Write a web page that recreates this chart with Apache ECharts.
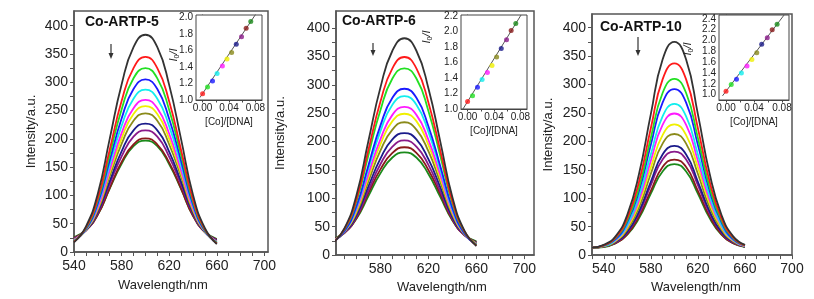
<!DOCTYPE html>
<html>
<head>
<meta charset="utf-8">
<script src="https://cdn.jsdelivr.net/npm/echarts@6/dist/echarts.min.js"></script>
<style>
  html, body { margin: 0; padding: 0; background: #fff; }
  #chart { width: 814px; height: 299px; }
</style>
</head>
<body>
<div id="chart"></div>
<script>
// wavelengths (nm)
const wl5 = [540, 550, 560, 570, 580, 590, 600, 610, 620, 630, 640, 650, 660];
const wl6 = [540, 550, 560, 570, 580, 590, 600, 610, 620, 630, 640, 650, 660];
const wl10 = [530, 540, 550, 560, 570, 580, 590, 600, 610, 620, 630, 640, 650, 660];

// emission spectra, first curve = no complex, then increasing [Co]/[DNA]
const curves5 = [
  [17, 45, 103, 200, 296, 362, 384, 362, 295, 199, 101, 42, 14],
  [18, 43, 95, 181, 267, 325, 345, 325, 266, 180, 93, 40, 15],
  [19, 42, 91, 172, 252, 307, 325, 307, 251, 171, 89, 39, 16],
  [19, 40, 86, 162, 236, 288, 305, 288, 235, 161, 84, 37, 16],
  [20, 40, 83, 154, 223, 271, 287, 271, 222, 153, 81, 37, 17],
  [21, 40, 79, 145, 210, 254, 269, 254, 209, 144, 77, 37, 18],
  [21, 39, 77, 140, 201, 244, 258, 244, 200, 139, 75, 36, 18],
  [22, 39, 74, 134, 191, 232, 245, 232, 190, 133, 72, 36, 19],
  [23, 38, 71, 125, 178, 215, 227, 215, 177, 124, 69, 35, 20],
  [24, 38, 69, 120, 169, 204, 215, 204, 168, 119, 67, 35, 21],
  [25, 38, 66, 113, 159, 190, 201, 190, 158, 112, 64, 35, 22],
  [26, 39, 66, 112, 156, 187, 197, 187, 155, 111, 64, 36, 23]
];
const curves6 = [
  [20, 47, 105, 201, 295, 360, 382, 360, 294, 199, 102, 43, 16],
  [21, 46, 98, 185, 270, 329, 349, 329, 269, 183, 95, 42, 17],
  [22, 45, 94, 176, 255, 311, 329, 311, 254, 174, 91, 41, 18],
  [22, 42, 86, 158, 228, 277, 293, 277, 227, 156, 83, 38, 18],
  [23, 42, 83, 152, 218, 265, 280, 265, 217, 150, 80, 38, 19],
  [24, 42, 80, 143, 204, 247, 261, 247, 203, 141, 77, 38, 20],
  [24, 41, 77, 137, 195, 236, 249, 236, 194, 135, 74, 37, 20],
  [25, 41, 74, 130, 184, 221, 234, 221, 183, 128, 71, 37, 21],
  [26, 40, 70, 121, 170, 204, 215, 204, 169, 119, 67, 36, 22],
  [26, 39, 67, 114, 160, 191, 202, 191, 159, 112, 64, 35, 22],
  [27, 39, 65, 109, 151, 180, 190, 180, 150, 107, 62, 35, 23],
  [28, 40, 64, 104, 144, 172, 181, 172, 143, 102, 61, 36, 24]
];
const curves10 = [
  [13, 18, 33, 71, 143, 248, 344, 375, 344, 248, 143, 71, 33, 18],
  [13, 17, 31, 65, 129, 223, 309, 337, 309, 223, 129, 65, 31, 17],
  [13, 17, 30, 61, 119, 206, 285, 310, 285, 206, 119, 61, 30, 17],
  [13, 17, 28, 58, 113, 194, 268, 292, 268, 194, 113, 58, 28, 17],
  [13, 16, 27, 53, 104, 177, 244, 266, 244, 177, 104, 53, 27, 16],
  [13, 16, 26, 51, 97, 166, 229, 249, 229, 166, 97, 51, 26, 16],
  [13, 16, 25, 48, 91, 154, 211, 230, 211, 154, 91, 48, 25, 16],
  [13, 15, 24, 45, 84, 143, 196, 213, 196, 143, 84, 45, 24, 15],
  [13, 15, 23, 41, 77, 129, 177, 192, 177, 129, 77, 41, 23, 15],
  [13, 15, 22, 40, 73, 123, 168, 182, 168, 123, 73, 40, 22, 15],
  [13, 15, 21, 37, 68, 113, 155, 168, 155, 113, 68, 37, 21, 15],
  [13, 14, 21, 36, 65, 108, 147, 160, 147, 108, 65, 36, 21, 14]
];

// Stern-Volmer insets
const ratio = [0.000, 0.0075, 0.015, 0.022, 0.030, 0.037, 0.044, 0.051, 0.059, 0.066, 0.073];
const sv5 = [1.077, 1.158, 1.231, 1.32, 1.413, 1.498, 1.575, 1.676, 1.765, 1.87, 1.95];
const sv6 = [1.095, 1.17, 1.28, 1.38, 1.47, 1.56, 1.67, 1.78, 1.89, 2.01, 2.10];
const sv10 = [1.062, 1.186, 1.285, 1.40, 1.526, 1.65, 1.774, 1.93, 2.05, 2.196, 2.30];
const fit5 = [[-0.004, 1.03], [0.0805, 2.04]];
const fit6 = [[-0.007, 1.0], [0.081, 2.21]];
const fit10 = [[-0.005, 0.977], [0.083, 2.47]];

// tick values
const xTicks5 = [540, 550, 560, 570, 580, 590, 600, 610, 620, 630, 640, 650, 660, 670, 680, 690, 700];
const xLabels5 = [540, 580, 620, 660, 700];
const xTicks6 = [550, 560, 570, 580, 590, 600, 610, 620, 630, 640, 650, 660, 670, 680, 690, 700];
const xLabels6 = [580, 620, 660, 700];
const xTicks10 = [530, 540, 550, 560, 570, 580, 590, 600, 610, 620, 630, 640, 650, 660, 670, 680, 690, 700];
const xLabels10 = [540, 580, 620, 660, 700];
const yTicks = [0, 25, 50, 75, 100, 125, 150, 175, 200, 225, 250, 275, 300, 325, 350, 375, 400];
const yLabels = [0, 50, 100, 150, 200, 250, 300, 350, 400];
const insetXTicks = [0, 0.02, 0.04, 0.06, 0.08];
const insetXLabels = [0, 0.04, 0.08];
const svLabels5 = [1.0, 1.2, 1.4, 1.6, 1.8, 2.0];
const svLabels6 = [1.0, 1.2, 1.4, 1.6, 1.8, 2.0, 2.2];
const svLabels10 = [1.0, 1.2, 1.4, 1.6, 1.8, 2.0, 2.2, 2.4];

const colors = ['#333333', '#ff1a1a', '#22e022', '#1a1aff', '#11eeee', '#ff1aff', '#f0f000',
  '#8a8a1a', '#1a1a8a', '#8a1a8a', '#8a1a1a', '#1a8a1a'];

const FONT = '"Liberation Sans", Arial, sans-serif';
const chart = echarts.init(document.getElementById('chart'));

const frame = { show: true, borderColor: '#555', borderWidth: 1.5, backgroundColor: 'transparent' };
const grids = [
  Object.assign({ left: 74, top: 11, width: 194, height: 241 }, frame),
  Object.assign({ left: 336, top: 11, width: 198, height: 245 }, frame),
  Object.assign({ left: 592, top: 14, width: 200, height: 244 }, frame),
  { show: true, left: 196, top: 15, width: 66, height: 85, borderColor: '#444', borderWidth: 1, backgroundColor: '#fff', z: 5 },
  { show: true, left: 461, top: 15, width: 66, height: 94, borderColor: '#444', borderWidth: 1, backgroundColor: '#fff', z: 5 },
  { show: true, left: 719, top: 15, width: 70, height: 85, borderColor: '#444', borderWidth: 1, backgroundColor: '#fff', z: 5 }
];

function mainX(gi, min, max, ticks, labels, nameGap, namePad) {
  return {
    type: 'value', gridIndex: gi, min: min, max: max,
    name: 'Wavelength/nm', nameLocation: 'middle', nameGap: nameGap,
    nameTextStyle: { fontFamily: FONT, fontSize: 13, color: '#222', padding: namePad },
    axisLine: { lineStyle: { color: '#555', width: 1.5 } },
    axisTick: { customValues: ticks, length: 4, lineStyle: { color: '#555' } },
    axisLabel: { customValues: labels, fontFamily: FONT, fontSize: 14, color: '#222', margin: 7 },
    splitLine: { show: false }
  };
}
function mainY(gi, max, nameGap) {
  return {
    type: 'value', gridIndex: gi, min: 0, max: max,
    name: 'Intensity/a.u.', nameLocation: 'middle', nameGap: nameGap,
    nameTextStyle: { fontFamily: FONT, fontSize: 13, color: '#222' },
    axisLine: { show: true, lineStyle: { color: '#555', width: 1.5 } },
    axisTick: { show: true, customValues: yTicks, length: 4, lineStyle: { color: '#555' } },
    axisLabel: { customValues: yLabels, fontFamily: FONT, fontSize: 14, color: '#222', margin: 6 },
    splitLine: { show: false }
  };
}
function insetX(gi) {
  return {
    type: 'value', gridIndex: gi, min: -0.01, max: 0.09,
    name: '[Co]/[DNA]', nameLocation: 'middle', nameGap: 17,
    nameTextStyle: { fontFamily: FONT, fontSize: 10, color: '#222' },
    axisLine: { lineStyle: { color: '#444', width: 1 } },
    axisTick: { customValues: insetXTicks, length: 2.5, lineStyle: { color: '#444' } },
    axisLabel: { customValues: insetXLabels, fontFamily: FONT, fontSize: 10, color: '#222', margin: 3,
      formatter: v => v.toFixed(2) },
    splitLine: { show: false }
  };
}
function insetY(gi, min, max, labels) {
  return {
    type: 'value', gridIndex: gi, min: min, max: max,
    axisLine: { show: true, lineStyle: { color: '#444', width: 1 } },
    axisTick: { show: true, customValues: labels, length: 2.5, lineStyle: { color: '#444' } },
    axisLabel: { customValues: labels, fontFamily: FONT, fontSize: 10, color: '#222', margin: 3,
      formatter: v => v.toFixed(1) },
    splitLine: { show: false }
  };
}

const series = [];
function addSpectra(gi, wl, curves) {
  curves.forEach((vals, i) => {
    series.push({
      type: 'line', xAxisIndex: gi, yAxisIndex: gi, smooth: true, showSymbol: false,
      silent: true, z: 2 + (11 - i) * 0.01,
      lineStyle: { color: colors[i], width: 1.8 },
      data: wl.map((x, j) => [x, vals[j]])
    });
  });
}
function addInset(gi, ys, fit) {
  series.push({
    type: 'line', xAxisIndex: gi, yAxisIndex: gi, showSymbol: false, silent: true, z: 6,
    lineStyle: { color: '#555', width: 1 }, data: fit
  });
  series.push({
    type: 'scatter', xAxisIndex: gi, yAxisIndex: gi, symbolSize: 5, z: 7,
    data: ratio.map((x, k) => ({ value: [x, ys[k]], itemStyle: { color: colors[k + 1] } }))
  });
}
addSpectra(0, wl5, curves5);
addSpectra(1, wl6, curves6);
addSpectra(2, wl10, curves10);
addInset(3, sv5, fit5);
addInset(4, sv6, fit6);
addInset(5, sv10, fit10);

function arrow(x, y1, y2) {
  return [
    { type: 'line', shape: { x1: x, y1: y1, x2: x, y2: y2 - 4 }, style: { stroke: '#333', lineWidth: 1.2 }, z: 10 },
    { type: 'polygon', shape: { points: [[x - 2.5, y2 - 6], [x + 2.5, y2 - 6], [x, y2]] }, style: { fill: '#333' }, z: 10 }
  ];
}
function svName(x, y) {
  return {
    type: 'text', x: x, y: y, rotation: Math.PI / 2, z: 10,
    style: {
      text: '{i|I}{s|0}{i|/I}', align: 'center', verticalAlign: 'middle', fill: '#222',
      rich: {
        i: { fontFamily: FONT, fontSize: 11, fontStyle: 'italic', lineHeight: 13, verticalAlign: 'middle' },
        s: { fontFamily: FONT, fontSize: 7, lineHeight: 13, verticalAlign: 'bottom' }
      }
    }
  };
}

const titleStyle = { fontFamily: FONT, fontSize: 14, fontWeight: 'bold', color: '#111' };
const option = {
  animation: false,
  backgroundColor: '#fff',
  title: [
    { text: 'Co-ARTP-5', left: 85, top: 15, padding: 0, textStyle: titleStyle },
    { text: 'Co-ARTP-6', left: 342, top: 14, padding: 0, textStyle: titleStyle },
    { text: 'Co-ARTP-10', left: 600, top: 20, padding: 0, textStyle: titleStyle }
  ],
  grid: grids,
  xAxis: [
    mainX(0, 540, 703, xTicks5, xLabels5, 27, [0, 16, 0, 0]),
    mainX(1, 543, 708, xTicks6, xLabels6, 24, [0, 0, 0, 14]),
    mainX(2, 530, 700, xTicks10, xLabels10, 22, [0, 0, 0, 8]),
    insetX(3), insetX(4), insetX(5)
  ],
  yAxis: [
    mainY(0, 426, 36),
    mainY(1, 430, 49),
    mainY(2, 424, 37),
    insetY(3, 1.0, 2.03, svLabels5),
    insetY(4, 1.0, 2.21, svLabels6),
    insetY(5, 0.9, 2.47, svLabels10)
  ],
  graphic: [].concat(
    arrow(111, 44, 59), arrow(373, 43, 56), arrow(638, 37, 56),
    [svName(174, 55), svName(427, 37), svName(688, 49)]
  ),
  series: series
};
chart.setOption(option);
</script>
</body>
</html>
